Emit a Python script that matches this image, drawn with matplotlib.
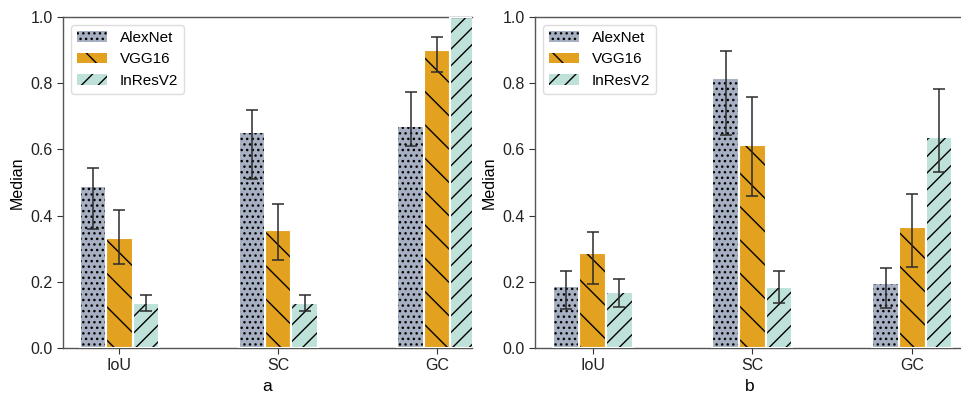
import numpy as np
import matplotlib
matplotlib.use("Agg")
import matplotlib.pyplot as plt
from matplotlib.patches import Patch

plt.rcParams['font.family'] = ['Liberation Sans', 'DejaVu Sans']
plt.rcParams['hatch.linewidth'] = 1.0

categories = ["IoU", "SC", "GC"]
models = ["AlexNet", "VGG16", "InResV2"]
colors = ["#A7B0C2", "#E3A120", "#BEE2DA"]
hatches = ["...", "\\", "//"]

# panel a: median, lower error, upper error
a_median = {"AlexNet": [0.490, 0.654, 0.672],
            "VGG16":   [0.331, 0.356, 0.900],
            "InResV2": [0.135, 0.135, 1.000]}
a_low = {"AlexNet": [0.359, 0.510, 0.611],
         "VGG16":   [0.254, 0.266, 0.833],
         "InResV2": [0.111, 0.112, np.nan]}
a_high = {"AlexNet": [0.545, 0.719, 0.772],
          "VGG16":   [0.417, 0.436, 0.939],
          "InResV2": [0.161, 0.160, np.nan]}

# panel b
b_median = {"AlexNet": [0.188, 0.815, 0.197],
            "VGG16":   [0.286, 0.613, 0.367],
            "InResV2": [0.168, 0.185, 0.638]}
b_low = {"AlexNet": [0.117, 0.644, 0.122],
         "VGG16":   [0.192, 0.459, 0.244],
         "InResV2": [0.123, 0.137, 0.531]}
b_high = {"AlexNet": [0.234, 0.897, 0.243],
          "VGG16":   [0.351, 0.757, 0.465],
          "InResV2": [0.209, 0.234, 0.782]}

fig = plt.figure(figsize=(9.62, 4.0), dpi=100)
W, H = 962, 400
axA = fig.add_axes([63 / W, 52 / H, 409 / W, 331 / H])
axB = fig.add_axes([535 / W, 52 / H, 430 / W, 331 / H])

width = 1 / 6
x = np.arange(len(categories))


def draw(ax, med, lo, hi, label, xlim):
    for i, m in enumerate(models):
        pos = x + (i - 1) * width
        vals = np.array(med[m])
        ax.bar(pos, vals, width, color=colors[i], edgecolor="white", linewidth=0, zorder=2)
        ax.bar(pos, vals, width, color="none", edgecolor="black", hatch=hatches[i], linewidth=0, zorder=3)
        ax.bar(pos, vals, width, color="none", edgecolor="white", linewidth=1.5, zorder=4)
        l = np.array(lo[m]); h = np.array(hi[m])
        ok = ~np.isnan(l)
        ax.errorbar(pos[ok], vals[ok], yerr=[vals[ok] - l[ok], h[ok] - vals[ok]],
                    fmt="none", ecolor="#2b2b2b", elinewidth=1.1, capsize=4.5, capthick=1.1, zorder=5)
    ax.set_xlim(*xlim)
    ax.set_ylim(0, 1.0)
    ax.set_xticks(x)
    ax.set_xticklabels(categories, fontsize=11.5)
    ax.set_yticks(np.arange(0, 1.01, 0.2))
    ax.set_yticklabels([f"{v:.1f}" for v in np.arange(0, 1.01, 0.2)], fontsize=11.5)
    ax.set_ylabel("Median", fontsize=11.5, labelpad=4)
    ax.set_xlabel(label, fontsize=12.5, labelpad=4)
    for s in ["left", "bottom", "top"]:
        ax.spines[s].set_color("#555555")
        ax.spines[s].set_linewidth(1.0)
    ax.spines["right"].set_visible(False)
    ax.tick_params(colors="#333333", labelcolor="#222222", length=4)
    handles = [Patch(facecolor=colors[i], edgecolor="black", hatch=hatches[i], linewidth=0, label=m)
               for i, m in enumerate(models)]
    ax.legend(handles=handles, loc="upper left", fontsize=11, framealpha=1,
              edgecolor="#dddddd", borderaxespad=0.5)


draw(axA, a_median, a_low, a_high, "a", (-0.355, 2.22))
draw(axB, b_median, b_low, b_high, "b", (-0.36, 2.33))

fig.savefig("out.png", dpi=100)
